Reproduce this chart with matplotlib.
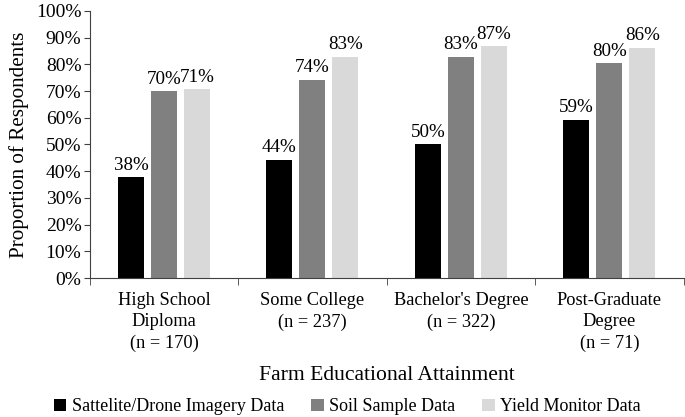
import matplotlib.pyplot as plt
import numpy as np

plt.rcParams['font.family'] = ['Liberation Serif', 'DejaVu Serif']

categories = ['High School\nDiploma\n(n = 170)', 'Some College\n(n = 237)',
              "Bachelor's Degree\n(n = 322)", 'Post-Graduate\nDegree\n(n = 71)']
series = ['Sattelite/Drone Imagery Data', 'Soil Sample Data', 'Yield Monitor Data']
satellite = [37.7, 44.3, 50.1, 59.2]
soil = [70.0, 74.3, 82.8, 80.4]
yield_mon = [70.6, 82.8, 86.8, 86.2]
colors = ['#000000', '#808080', '#d9d9d9']

fig = plt.figure(figsize=(6.85, 4.17), dpi=100)
ax = fig.add_axes([0.131, 0.333, 0.867, 0.641])

x = np.arange(len(categories))
w = 0.175
step = 0.222
for i, (vals, name) in enumerate(zip([satellite, soil, yield_mon], series)):
    pos = x + (i - 1) * step
    bars = ax.bar(pos, vals, w, color=colors[i], label=name)
    for b, v in zip(bars, vals):
        ax.text(b.get_x() + b.get_width() / 2, v + 1.3, f'{v:.0f}%',
                ha='center', va='bottom', fontsize=13.7)

ax.set_xlim(-0.5, len(categories) - 0.5)
ax.set_ylim(0, 100)
ax.set_yticks(np.arange(0, 101, 10))
ax.set_yticklabels([f'{t}%' for t in range(0, 101, 10)], fontsize=14)
ax.set_xticks(x)
ax.set_xticklabels(categories, fontsize=13.2, linespacing=1.32)
ax.set_xticks(np.arange(-0.5, len(categories), 1), minor=True)
ax.tick_params(axis='x', which='major', length=0, pad=10)
ax.tick_params(axis='x', which='minor', length=5, color='#404040')
ax.tick_params(axis='y', length=4, color='#404040', pad=2)
for s in ['top', 'right']:
    ax.spines[s].set_visible(False)
for s in ['left', 'bottom']:
    ax.spines[s].set_color('#404040')

ax.set_ylabel('Proportion of Respondents', fontsize=15.2, labelpad=5)
fig.text(0.5645, 0.1, 'Farm Educational Attainment', ha='center', va='center', fontsize=15.6)
fig.legend(loc='lower center', bbox_to_anchor=(0.507, -0.035), ncol=3, frameon=False,
           fontsize=13, handlelength=0.7, handleheight=0.7, handletextpad=0.3,
           columnspacing=1.5)

fig.savefig('out.png')
